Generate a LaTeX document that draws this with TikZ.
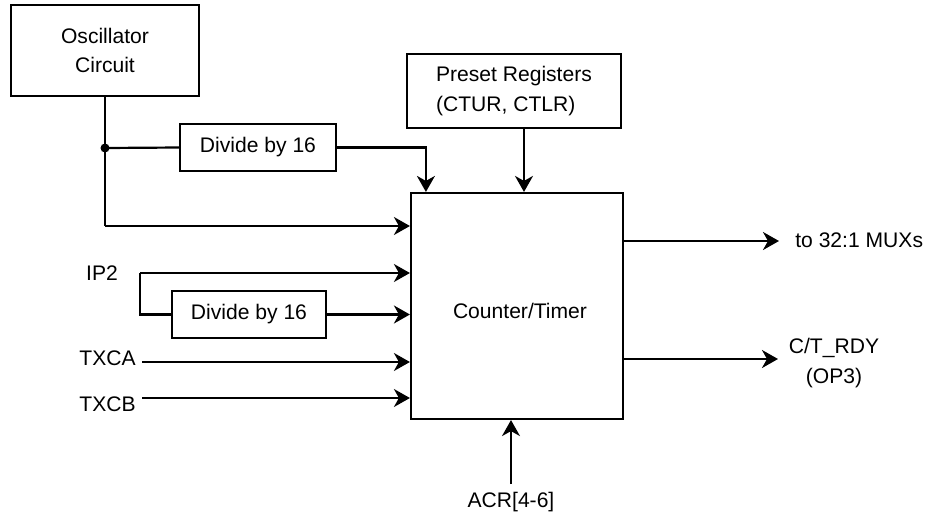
\documentclass[tikz,border=0pt]{standalone}
\usepackage{fontspec}
\setmainfont{Liberation Sans}
\usetikzlibrary{arrows.meta}
\begin{document}
\begin{tikzpicture}
	[x=0.02cm, y=-0.02cm,
	every node/.style={font=\fontsize{12}{17}\selectfont, inner sep=0pt},
	box/.style={draw, line width=1.25pt, align=center},
	wire/.style={line width=1.25pt},
	sig/.style={wire, -{Stealth[length=0.32cm, width=0.36cm, inset=0.1cm]}},]
	\useasboundingbox (0,0) rectangle (938,518);
	\node[box, minimum width=3.76cm, minimum height=1.82cm] (osc) at (105,50.5) {Oscillator\\Circuit};
	\node[box, minimum width=3.12cm, minimum height=0.94cm] (div1) at (258,147.5) {Divide by 16};
	\node[box, align=left, minimum width=4.28cm, minimum height=1.48cm] (pre) at (514,91) {Preset Registers\\(CTUR, CTLR)};
	\node[box, minimum width=4.24cm, minimum height=4.52cm] (ctr) at (517,306) {};
	\node (ctrtxt) at (520,311) {Counter/Timer};
	\node[box, minimum width=3.08cm, minimum height=0.94cm] (div2) at (249,314.5) {Divide by 16};
	\node (ip2) at (102,273) {IP2};
	\node[anchor=east] (txca) at (136,358) {TXCA};
	\node[anchor=east] (txcb) at (136,404) {TXCB};
	\node[anchor=west] (mux) at (795,240) {to 32:1 MUXs};
	\node[align=center] (rdy) at (834,363) {C/T\_RDY\\(OP3)};
	\node (acr) at (511,502) {ACR[4-6]};
	\coordinate (tap) at (105,148);
	\coordinate (oscin) at (105,226);
	\coordinate (ip2in) at (140,273);
	\coordinate (txcain) at (142,362);
	\coordinate (txcbin) at (142,398);
	\coordinate (preout) at (524,128);
	\coordinate (muxout) at (779,241);
	\coordinate (rdyout) at (778,359);
	\coordinate (acrin) at (511,484);
	\draw[wire] (osc.south) -- (oscin);
	\draw[sig] (oscin) -- (oscin -| ctr.west);
	\fill (tap) circle (0.09cm);
	\draw[wire] (tap) -- (div1.west);
	\draw[sig] (div1.east) -| ([xshift=0.32cm]ctr.north west);
	\draw[sig] (preout) -- (preout |- ctr.north);
	\draw[sig] (ip2in) -- (ip2in -| ctr.west);
	\draw[wire] (ip2in) |- (div2.west);
	\draw[sig] (div2.east) -- (div2.east -| ctr.west);
	\draw[sig] (txcain) -- (txcain -| ctr.west);
	\draw[sig] (txcbin) -- (txcbin -| ctr.west);
	\draw[sig] (muxout -| ctr.east) -- (muxout);
	\draw[sig] (rdyout -| ctr.east) -- (rdyout);
	\draw[sig] (acrin) -- (acrin |- ctr.south);
\end{tikzpicture}
\end{document}
